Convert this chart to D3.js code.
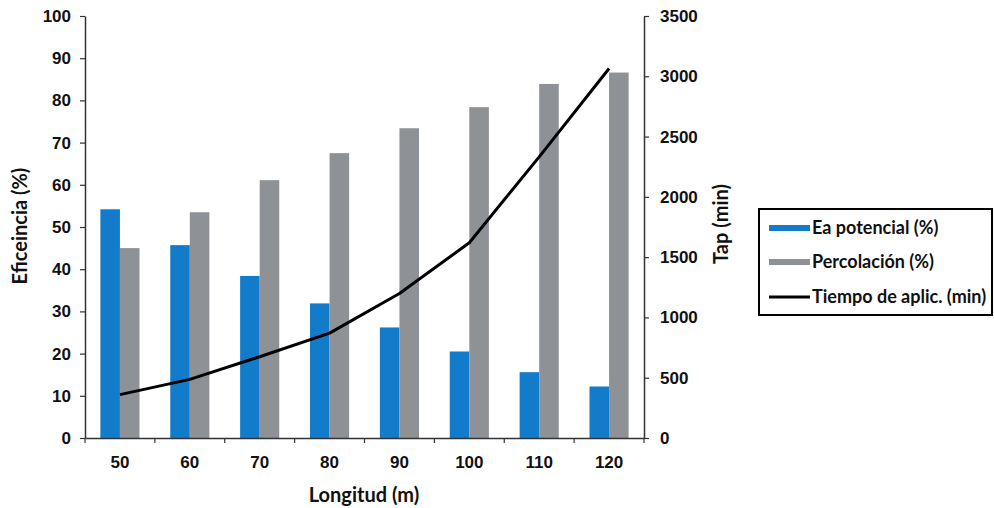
<!DOCTYPE html>
<html>
<head>
<meta charset="utf-8">
<script src="https://cdn.jsdelivr.net/npm/d3@7"></script>
<style>
  html, body { margin: 0; padding: 0; background: #fff; }
  svg { display: block; font-family: Lato, "Open Sans", sans-serif; }
</style>
</head>
<body>
<svg id="chart" width="994" height="508"></svg>
<script>
// Longitud del surco (m)
const categories = ["50", "60", "70", "80", "90", "100", "110", "120"];
// Eficiencia de aplicación potencial (%)
const eaPotencial = [54.2, 45.7, 38.4, 31.9, 26.2, 20.5, 15.6, 12.2];
// Pérdidas por percolación (%)
const percolacion = [45.0, 53.5, 61.1, 67.5, 73.4, 78.4, 83.9, 86.6];
// Tiempo de aplicación (min)
const tiempoAplic = [360, 486, 674, 870, 1199, 1619, 2332, 3065];

const leftTicks = [0, 10, 20, 30, 40, 50, 60, 70, 80, 90, 100];
const rightTicks = [0, 500, 1000, 1500, 2000, 2500, 3000, 3500];

const seriesNames = ["Ea potencial (%)", "Percolación (%)", "Tiempo de aplic. (min)"];
const colors = { ea: "#127ccb", perc: "#8e9296", line: "#000" };

const svg = d3.select("#chart");
const plot = { left: 85, right: 644, top: 16, bottom: 438 };

const x = d3.scaleBand().domain(categories).range([plot.left, plot.right]);
const yL = d3.scaleLinear().domain([0, 100]).range([plot.bottom, plot.top]);
const yR = d3.scaleLinear().domain([0, 3500]).range([plot.bottom, plot.top]);

const barW = x.bandwidth() * 0.28;

// Barras: Ea potencial
svg.append("g").selectAll("rect")
  .data(eaPotencial)
  .join("rect")
  .attr("x", (d, i) => x(categories[i]) + x.bandwidth() / 2 - barW)
  .attr("y", d => yL(d))
  .attr("width", barW)
  .attr("height", d => yL(0) - yL(d))
  .attr("fill", colors.ea);

// Barras: Percolación
svg.append("g").selectAll("rect")
  .data(percolacion)
  .join("rect")
  .attr("x", (d, i) => x(categories[i]) + x.bandwidth() / 2)
  .attr("y", d => yL(d))
  .attr("width", barW)
  .attr("height", d => yL(0) - yL(d))
  .attr("fill", colors.perc);

// Línea: tiempo de aplicación (eje secundario)
const line = d3.line()
  .x((d, i) => x(categories[i]) + x.bandwidth() / 2)
  .y(d => yR(d));
svg.append("path")
  .datum(tiempoAplic)
  .attr("d", line)
  .attr("fill", "none")
  .attr("stroke", colors.line)
  .attr("stroke-width", 3)
  .attr("stroke-linejoin", "round");

// Ejes
const styleAxis = g => {
  g.select(".domain").attr("stroke", "#333").attr("stroke-width", 1.5);
  g.selectAll(".tick line").attr("stroke", "#333").attr("stroke-width", 1.2);
  g.selectAll(".tick text")
    .attr("fill", "#111")
    .style("font-size", "17px")
    .style("font-weight", "700");
};

svg.append("g")
  .attr("transform", `translate(${plot.left},0)`)
  .call(d3.axisLeft(yL).tickValues(leftTicks).tickSize(5).tickPadding(9).tickSizeOuter(0))
  .call(styleAxis);

svg.append("g")
  .attr("transform", `translate(${plot.right},0)`)
  .call(d3.axisRight(yR).tickValues(rightTicks).tickFormat(d3.format("d"))
    .tickSize(5).tickPadding(11).tickSizeOuter(0))
  .call(styleAxis);

// Eje X: marcas entre categorías
const xAxis = svg.append("g")
  .attr("transform", `translate(0,${plot.bottom})`)
  .call(d3.axisBottom(x).tickSize(0).tickPadding(18))
  .call(styleAxis);
const bounds = categories.map(c => x(c)).concat([x.range()[1]]);
xAxis.selectAll(".sep")
  .data(bounds)
  .join("line")
  .attr("class", "sep")
  .attr("x1", d => d).attr("x2", d => d)
  .attr("y1", 0).attr("y2", 5)
  .attr("stroke", "#333").attr("stroke-width", 1.2);

// Títulos de ejes
const titleStyle = t => t
  .attr("text-anchor", "middle")
  .attr("dy", "0.35em")
  .style("font-size", "20px").style("font-weight", "700").attr("fill", "#111");

svg.append("text")
  .attr("transform", `translate(20,226) rotate(-90)`)
  .call(titleStyle)
  .text("Eficeincia (%)");

svg.append("text")
  .attr("transform", `translate(721,224) rotate(-90)`)
  .call(titleStyle)
  .text("Tap (min)");

svg.append("text")
  .attr("x", 364)
  .attr("y", 495)
  .call(titleStyle)
  .text("Longitud (m)");

// Leyenda
const legend = svg.append("g").attr("transform", "translate(759,209)");
legend.append("rect")
  .attr("x", 0).attr("y", 0).attr("width", 233).attr("height", 106)
  .attr("fill", "#fff").attr("stroke", "#000").attr("stroke-width", 2);
const rowsY = [19, 53, 88];
legend.append("rect").attr("x", 10).attr("y", rowsY[0] - 3).attr("width", 41).attr("height", 6).attr("fill", colors.ea);
legend.append("rect").attr("x", 10).attr("y", rowsY[1] - 3).attr("width", 41).attr("height", 6).attr("fill", colors.perc);
legend.append("line").attr("x1", 10).attr("x2", 51).attr("y1", rowsY[2]).attr("y2", rowsY[2])
  .attr("stroke", colors.line).attr("stroke-width", 3);
legend.selectAll("text.lbl")
  .data(seriesNames)
  .join("text")
  .attr("class", "lbl")
  .attr("x", 53)
  .attr("y", (d, i) => rowsY[i])
  .attr("dy", "0.35em")
  .style("font-size", "18px").style("font-weight", "700").attr("fill", "#111")
  .text(d => d);
</script>
</body>
</html>
